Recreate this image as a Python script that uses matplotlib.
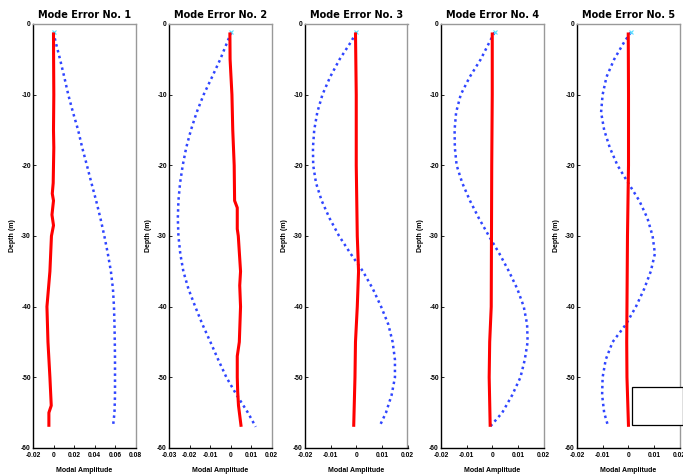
import matplotlib
matplotlib.use("Agg")
import matplotlib.pyplot as plt
from matplotlib.patches import Rectangle

plt.rcParams['axes.unicode_minus'] = False
plt.rcParams['font.family'] = ['Liberation Sans', 'DejaVu Sans']

titles = ["Mode Error No. 1", "Mode Error No. 2", "Mode Error No. 3",
          "Mode Error No. 4", "Mode Error No. 5"]

blue_depth = [-1.2, -2.5, -5, -7.5, -10, -12.5, -15, -17.5, -20, -22.5, -25, -27.5,
              -30, -32.5, -35, -37.5, -40, -42.5, -45, -47.5, -50, -52.5, -55, -57]

blue1 = [0.000, 0.002, 0.0064, 0.0105, 0.0144, 0.019, 0.024, 0.028, 0.0326, 0.037,
         0.0416, 0.0458, 0.0496, 0.053, 0.056, 0.058, 0.059, 0.0595, 0.0598, 0.060,
         0.060, 0.060, 0.0595, 0.058]
blue2 = [0.0003, -0.0015, -0.005, -0.009, -0.0131, -0.0165, -0.0193, -0.0216, -0.0233,
         -0.0246, -0.0254, -0.0257, -0.0254, -0.0245, -0.023, -0.0205, -0.0172, -0.0137,
         -0.0098, -0.006, -0.002, 0.003, 0.0085, 0.0123]
blue3 = [0.0, -0.002, -0.0065, -0.0102, -0.0132, -0.0152, -0.0164, -0.0169, -0.0168,
         -0.0157, -0.0135, -0.0104, -0.0067, -0.0022, 0.0026, 0.0065, 0.0097, 0.0125,
         0.0142, 0.0151, 0.0151, 0.0138, 0.0116, 0.009]
blue4 = [0.0009, -0.001, -0.0045, -0.0088, -0.0123, -0.0141, -0.0147, -0.0146, -0.0139,
         -0.0117, -0.0087, -0.0052, -0.0013, 0.0028, 0.0065, 0.0098, 0.0123, 0.0136,
         0.0138, 0.0127, 0.011, 0.0078, 0.0039, -0.0009]
blue5 = [0.001, -0.0015, -0.0055, -0.0085, -0.010, -0.0106, -0.0094, -0.0072, -0.0042,
         0.0, 0.0043, 0.0075, 0.0095, 0.0104, 0.0088, 0.0062, 0.003, -0.0009, -0.0061,
         -0.0088, -0.010, -0.0102, -0.0094, -0.0078]

red1_depth = [-1.2, -5, -10, -15, -17.5, -20, -22.5, -24, -25, -27, -28.5, -30, -35,
              -40, -45, -50, -54, -55, -57]
red1 = [0.0, 0.0001, 0.0003, 0.0, 0.0003, 0.0, -0.0003, -0.0012, 0.0, -0.0015, 0.0,
        -0.002, -0.0035, -0.0064, -0.0054, -0.0035, -0.0022, -0.0045, -0.0045]
red2_depth = [-1.2, -5, -10, -15, -20, -25, -26, -29, -30, -35, -37, -40, -45, -47,
              -50, -52, -54, -57]
red2 = [-0.0003, -0.0002, 0.0007, 0.0011, 0.0018, 0.002, 0.0033, 0.0033, 0.0038,
        0.0049, 0.0045, 0.0049, 0.0043, 0.0033, 0.0033, 0.0035, 0.0039, 0.0052]
red3_depth = [-1.2, -10, -20, -30, -35, -40, -45, -50, -57]
red3 = [-0.0003, 0.0, 0.0, 0.0004, 0.0009, 0.0004, -0.0003, -0.0005, -0.001]
red4_depth = [-1.2, -10, -20, -30, -40, -45, -50, -57]
red4 = [0.0, 0.0, -0.0002, -0.0003, -0.0004, -0.001, -0.0012, -0.0008]
red5_depth = [-1.2, -10, -20, -30, -40, -45, -50, -57]
red5 = [0.0, 0.0001, 0.0001, -0.0003, -0.0005, -0.0006, -0.0005, 0.0001]

blues = [blue1, blue2, blue3, blue4, blue5]
reds = [(red1_depth, red1), (red2_depth, red2), (red3_depth, red3),
        (red4_depth, red4), (red5_depth, red5)]

xticks_all = [
    [-0.02, 0, 0.02, 0.04, 0.06, 0.08],
    [-0.03, -0.02, -0.01, 0, 0.01, 0.02],
    [-0.02, -0.01, 0, 0.01, 0.02],
    [-0.02, -0.01, 0, 0.01, 0.02],
    [-0.02, -0.01, 0, 0.01, 0.02],
]
xticklabels_all = [
    ["-0.02", "0", "0.02", "0.04", "0.06", "0.08"],
    ["-0.03", "-0.02", "-0.01", "0", "0.01", "0.02"],
    ["-0.02", "-0.01", "0", "0.01", "0.02"],
    ["-0.02", "-0.01", "0", "0.01", "0.02"],
    ["-0.02", "-0.01", "0", "0.01", "0.02"],
]
yticks = [-60, -50, -40, -30, -20, -10, 0]
yticklabels = ["-60", "-50", "-40", "-30", "-20", "-10", "0"]

W, H = 683, 475
fig = plt.figure(figsize=(W / 100, H / 100), dpi=100)

lefts_px = [33, 169, 305, 441, 577]
width_px = 102.5
top_px, bottom_px = 24, 448

for i in range(5):
    l = lefts_px[i] / W
    b = (H - bottom_px) / H
    h = (bottom_px - top_px) / H
    ax = fig.add_axes([l, b, width_px / W, h])
    xt = xticks_all[i]
    ax.set_xlim(xt[0], xt[-1])
    ax.set_ylim(-60, 0)
    ax.plot(blues[i], blue_depth, color='#2f45ff', lw=1.8,
            linestyle=(0, (1.0, 1.4)), dash_capstyle='butt', zorder=2)
    ax.plot(blues[i][:1], blue_depth[:1], marker='x', ms=2.5, mew=0.8,
            color='#55e0ff', ls='none', zorder=3)
    rd, rv = reds[i]
    ax.plot(rv, rd, color='#ff0000', lw=2.2, solid_capstyle='butt', zorder=4)

    ax.set_xticks(xt)
    ax.set_xticklabels(xticklabels_all[i])
    ax.set_yticks(yticks)
    ax.set_yticklabels(yticklabels)
    ax.tick_params(direction='in', length=2.5, width=0.6, labelsize=4.8, pad=1.5)
    ax.tick_params(axis='x', pad=2.8)
    for lab in ax.get_xticklabels() + ax.get_yticklabels():
        lab.set_fontweight('bold')
    ax.spines['left'].set_color('black')
    ax.spines['bottom'].set_color('black')
    ax.spines['top'].set_color('#999999')
    ax.spines['right'].set_color('#999999')
    for s in ax.spines.values():
        s.set_linewidth(1.0)
    ax.set_title(titles[i], fontsize=7, fontweight='bold', pad=4,
                 family=['DejaVu Sans'])
    ax.set_xlabel("Modal Amplitude", fontsize=5, fontweight='bold', labelpad=6)
    ax.set_ylabel("Depth (m)", fontsize=5, fontweight='bold', labelpad=4)

    if i == 4:
        ax.add_patch(Rectangle((0.54, 0.055), 0.49, 0.089, transform=ax.transAxes,
                               facecolor='white', edgecolor='black', lw=0.9,
                               clip_on=False, zorder=5))

fig.savefig("out.png", dpi=100)
